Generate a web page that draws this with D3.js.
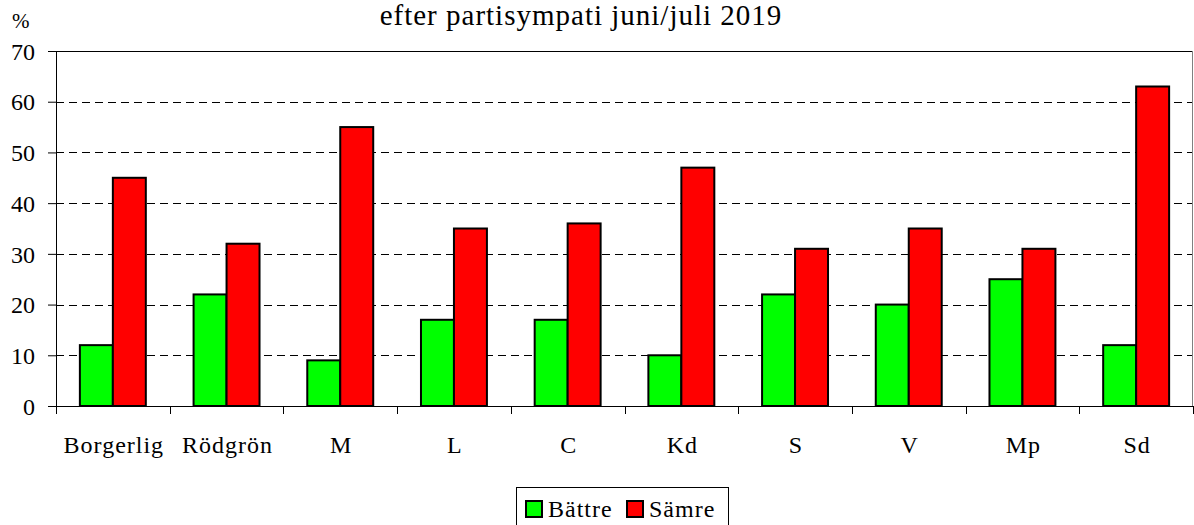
<!DOCTYPE html>
<html>
<head>
<meta charset="UTF-8">
<title>efter partisympati juni/juli 2019</title>
<script src="https://d3js.org/d3.v7.min.js"></script>
<style>
    body { margin: 0; background: #fff; }
    svg text { font-family: "Liberation Serif", "Times New Roman", serif; fill: #000; }
    .grid line { stroke: #000; stroke-width: 1; stroke-dasharray: 8,5; }
</style>
</head>
<body>
<div id="chart"></div>
<script>
    // data
    const categories = ["Borgerlig", "Rödgrön", "M", "L", "C", "Kd", "S", "V", "Mp", "Sd"];
    const seriesNames = ["Bättre", "Sämre"];
    const battre = [12, 22, 9, 17, 17, 10, 22, 20, 25, 12];
    const samre = [45, 32, 55, 35, 36, 47, 31, 35, 31, 63];
    const yTicks = [0, 10, 20, 30, 40, 50, 60, 70];
    const colors = ["#00ff00", "#ff0000"];

    const width = 1194, height = 525;
    const margin = {top: 51, right: 1, bottom: 119, left: 56};
    const innerW = width - margin.left - margin.right;
    const innerH = height - margin.top - margin.bottom;

    const svg = d3.select("#chart").append("svg")
        .attr("width", width)
        .attr("height", height);

    const g = svg.append("g")
        .attr("transform", `translate(${margin.left},${margin.top})`);

    const x = d3.scaleBand().domain(categories).range([0, innerW]).paddingInner(0).paddingOuter(0);
    const x1 = d3.scaleBand().domain(seriesNames).range([x.bandwidth() * 0.21, x.bandwidth() * 0.79]);
    const y = d3.scaleLinear().domain([0, 70]).range([innerH, 0]);

    // gridlines
    g.append("g").attr("class", "grid")
        .selectAll("line")
        .data(yTicks.filter(d => d > 0 && d < 70))
        .join("line")
        .attr("x1", 0).attr("x2", innerW)
        .attr("y1", d => Math.round(y(d)) + 0.5).attr("y2", d => Math.round(y(d)) + 0.5);

    // plot border (top, right)
    g.append("line").attr("x1", 0).attr("x2", innerW).attr("y1", 0.5).attr("y2", 0.5)
        .attr("stroke", "#000");
    g.append("line").attr("x1", innerW - 0.5).attr("x2", innerW - 0.5).attr("y1", 0).attr("y2", innerH)
        .attr("stroke", "#808080");

    // bars
    const rows = categories.map((c, i) => ({cat: c, vals: [battre[i], samre[i]]}));
    const grp = g.selectAll(".grp").data(rows).join("g")
        .attr("transform", d => `translate(${x(d.cat)},0)`);
    grp.selectAll("rect")
        .data(d => d.vals.map((v, j) => ({name: seriesNames[j], v, j})))
        .join("rect")
        .attr("x", d => x1(d.name))
        .attr("width", x1.bandwidth())
        .attr("y", d => y(d.v))
        .attr("height", d => innerH - y(d.v))
        .attr("fill", d => colors[d.j])
        .attr("stroke", "#000")
        .attr("stroke-width", 2);

    // y axis
    const yAxis = g.append("g")
        .call(d3.axisLeft(y).tickValues(yTicks).tickSize(8).tickPadding(13).tickSizeOuter(0));
    yAxis.select(".domain").attr("stroke", "#000");
    yAxis.selectAll("text")
        .attr("font-family", null)
        .style("font-size", "24px")
        .attr("dy", "0.34em");

    // x axis
    const xAxis = g.append("g").attr("transform", `translate(0,${innerH})`);
    xAxis.append("line").attr("x1", 0).attr("x2", innerW).attr("y1", 0.5).attr("y2", 0.5).attr("stroke", "#000");
    xAxis.selectAll(".tk")
        .data(d3.range(categories.length + 1))
        .join("line")
        .attr("x1", i => Math.round(i * x.step()) + 0.5)
        .attr("x2", i => Math.round(i * x.step()) + 0.5)
        .attr("y1", 0).attr("y2", 8)
        .attr("stroke", "#000");
    xAxis.selectAll(".lbl")
        .data(categories)
        .join("text")
        .attr("x", d => x(d) + x.bandwidth() / 2 + 1)
        .attr("y", 47)
        .attr("text-anchor", "middle")
        .style("font-size", "24px")
        .style("letter-spacing", "1px")
        .text(d => d);

    // title and unit
    svg.append("text").attr("x", 581).attr("y", 25).attr("text-anchor", "middle")
        .style("font-size", "29px").style("letter-spacing", "1px")
        .text("efter partisympati juni/juli 2019");
    svg.append("text").attr("x", 12).attr("y", 28).style("font-size", "21px").text("%");

    // legend
    const lg = svg.append("g").attr("transform", "translate(516,487)");
    lg.append("rect").attr("x", 0.5).attr("y", 0.5).attr("width", 212).attr("height", 40)
        .attr("fill", "#fff").attr("stroke", "#000");
    const items = lg.selectAll(".li").data(seriesNames).join("g")
        .attr("transform", (d, i) => `translate(${i === 0 ? 10 : 111},0)`);
    items.append("rect").attr("x", 0).attr("y", 14).attr("width", 16).attr("height", 16)
        .attr("fill", (d, i) => colors[i]).attr("stroke", "#000").attr("stroke-width", 2);
    items.append("text").attr("x", 22).attr("y", 30).style("font-size", "24px")
        .style("letter-spacing", "1px").text(d => d);
</script>
</body>
</html>
